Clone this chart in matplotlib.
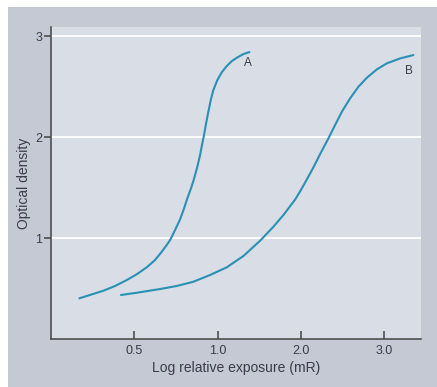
import matplotlib

matplotlib.use("Agg")
import matplotlib.pyplot as plt
from matplotlib.patches import Rectangle

# values (x in tick units: 1 -> "0.5", 2 -> "1.0", ...)
curve_a_x = [0.340, 0.468, 0.628, 0.768, 0.909, 1.029, 1.149, 1.248, 1.329,
             1.389, 1.429, 1.489, 1.549, 1.597, 1.636, 1.681, 1.712, 1.756,
             1.789, 1.816, 1.840, 1.861, 1.888, 1.917, 1.948, 1.996, 2.049,
             2.109, 2.169, 2.237, 2.309, 2.381]
curve_a_y = [0.403, 0.436, 0.478, 0.525, 0.584, 0.641, 0.710, 0.782, 0.864,
             0.931, 0.980, 1.079, 1.185, 1.294, 1.393, 1.495, 1.574, 1.706,
             1.822, 1.938, 2.037, 2.136, 2.250, 2.366, 2.465, 2.564, 2.641,
             2.703, 2.752, 2.789, 2.822, 2.842]
curve_b_x = [0.840, 1.029, 1.309, 1.509, 1.708, 1.909, 2.109, 2.309, 2.509,
             2.669, 2.789, 2.929, 2.995, 3.070, 3.149, 3.238, 3.329, 3.409,
             3.490, 3.589, 3.689, 3.790, 3.910, 4.030, 4.190, 4.349]
curve_b_y = [0.436, 0.458, 0.495, 0.525, 0.567, 0.634, 0.710, 0.822, 0.973,
             1.112, 1.228, 1.380, 1.470, 1.580, 1.700, 1.845, 1.987, 2.119,
             2.250, 2.383, 2.498, 2.587, 2.670, 2.730, 2.779, 2.812]
x_ticks = [1, 2, 3, 4]
x_tick_labels = ["0.5", "1.0", "2.0", "3.0"]
y_ticks = [1, 2, 3]
y_tick_labels = ["1", "2", "3"]

plt.rcParams["font.family"] = ["Liberation Sans", "DejaVu Sans"]

W, H = 437, 387
fig = plt.figure(figsize=(W / 100, H / 100), dpi=100)
fig.patch.set_facecolor("white")

# gray outer panel, kept behind the axes
panel = Rectangle((8 / W, 0), 1 - 8 / W, 1 - 7 / H,
                  transform=fig.transFigure, facecolor="#c4c9d4",
                  edgecolor="none", zorder=-10)
fig.add_artist(panel)

ax = fig.add_axes([51 / W, 1 - 339 / H, (421 - 51) / W, (339 - 27) / H])
ax.set_facecolor("#d8dde6")
ax.set_xlim(0, 4.44)
ax.set_ylim(0, 3.09)

for yv in y_ticks:
    ax.axhline(yv, color="white", lw=1.3, zorder=1)

line_color = "#2a90b4"
ax.plot(curve_a_x, curve_a_y, color=line_color, lw=1.5,
        solid_joinstyle="round", solid_capstyle="round", zorder=3)
ax.plot(curve_b_x, curve_b_y, color=line_color, lw=1.5,
        solid_joinstyle="round", solid_capstyle="round", zorder=3)

text_color = "#3b3b4a"
ax.text(2.365, 2.73, "A", fontsize=8.5, color=text_color, ha="center", va="center")
ax.text(4.30, 2.65, "B", fontsize=8.5, color=text_color, ha="center", va="center")

for side in ["top", "right"]:
    ax.spines[side].set_visible(False)
for side in ["left", "bottom"]:
    ax.spines[side].set_color("#444444")
    ax.spines[side].set_linewidth(1.1)

ax.set_xticks(x_ticks)
ax.set_xticklabels(x_tick_labels)
ax.set_yticks(y_ticks)
ax.set_yticklabels(y_tick_labels)
ax.tick_params(axis="x", direction="in", length=6, width=1.1, color="#444444",
               labelsize=9, labelcolor=text_color, pad=4)
ax.tick_params(axis="y", direction="out", length=5, width=1.1, color="#444444",
               labelsize=9, labelcolor=text_color, pad=1.5)

ax.set_xlabel("Log relative exposure (mR)", fontsize=10, color=text_color, labelpad=3)
ax.set_ylabel("Optical density", fontsize=10, color=text_color, labelpad=3)

fig.savefig("out.png", dpi=100, facecolor=fig.get_facecolor())
plt.close(fig)
